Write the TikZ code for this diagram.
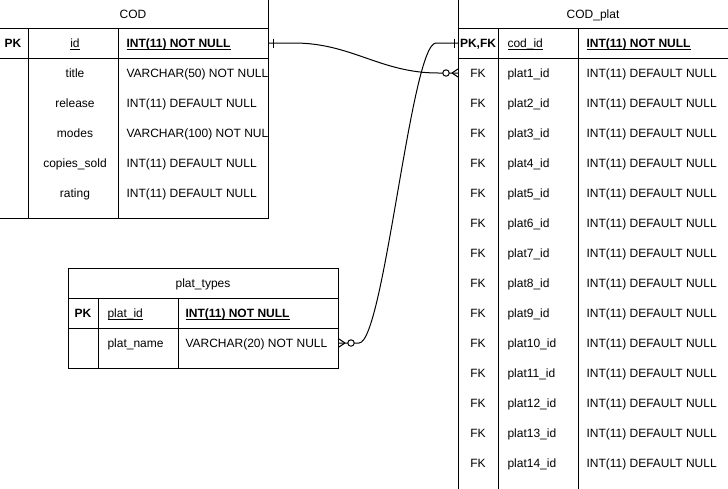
\documentclass[tikz,border=0pt]{standalone}
\usepackage{fontspec}
\setmainfont{Liberation Sans}
\usetikzlibrary{positioning,calc}
\newcommand{\undl}[1]{\setbox0\hbox{#1}\rlap{\rule[-2.6pt]{\wd0}{0.9pt}}\box0}
\tikzstyle{cell}=[inner sep=0pt, text height=9pt, text depth=0pt, font=\fontsize{12}{14}\selectfont]
\tikzstyle{key}=[cell, font=\fontsize{12}{14}\selectfont\bfseries]
\tikzset{
  onemark/.pic={\draw (-4,-4.5) -- (-4,4.5);},
  manymark/.pic={\draw (-6,0) -- (0,-4) (-6,0) -- (0,4);
                 \draw[fill=white] (-12,0) circle (3.2pt);}
}

\begin{document}
\begin{tikzpicture}[x=1pt,y=-1pt,line width=1pt,
    tbl/.style={draw, anchor=north west, inner sep=0pt}]
  \useasboundingbox (0,0) rectangle (728,488);

  % COD
  \node[tbl, minimum width=270pt, minimum height=220pt] (cod) at (-2,-2) {};
  \draw (-2,28) -- (268,28) (-2,58) -- (268,58) (28,28) -- (28,218) (118,28) -- (118,218);
  \node[cell] (codtitle) at (133,14) {COD};
  \node[key] (codpk) at (13,43) {PK};
  \node[cell] (codid) at (75,43) {\undl{id}};
  \node[key, anchor=west] (codidt) at (126,43) {\undl{INT(11) NOT NULL}};
  \foreach \n/\t [count=\i] in {title/VARCHAR(50) NOT NULL, release/INT(11) DEFAULT NULL,
      modes/VARCHAR(100) NOT NUL, copies\_sold/INT(11) DEFAULT NULL, rating/INT(11) DEFAULT NULL} {
    \node[cell] (codn\i) at (75,43+30*\i) {\n};
    \node[cell, anchor=west] (codt\i) at (126,43+30*\i) {\t};
  }

  % plat_types
  \node[tbl, minimum width=270pt, minimum height=100pt] (pt) at (68,268) {};
  \draw (68,298) -- (338,298) (68,328) -- (338,328) (98,298) -- (98,368) (178,298) -- (178,368);
  \node[cell] (pttitle) at (203,283) {plat\_types};
  \node[key] (ptpk) at (83,313) {PK};
  \node[cell, anchor=west] (ptid) at (107,313) {\undl{plat\_id}};
  \node[key, anchor=west] (ptidt) at (185,313) {\undl{INT(11) NOT NULL}};
  \node[cell, anchor=west] (ptn) at (107,343) {plat\_name};
  \node[cell, anchor=west] (ptnt) at (185,343) {VARCHAR(20) NOT NULL};

  % COD_plat
  \node[tbl, minimum width=271pt, minimum height=491pt] (cp) at (458,-2) {};
  \draw (458,28) -- (729,28) (458,58) -- (729,58) (498,28) -- (498,489) (578,28) -- (578,489);
  \node[cell] (cptitle) at (593,14) {COD\_plat};
  \node[key] (cppk) at (478,43) {PK,FK};
  \node[cell, anchor=west] (cpid) at (507,43) {\undl{cod\_id}};
  \node[key, anchor=west] (cpidt) at (586,43) {\undl{INT(11) NOT NULL}};
  \foreach \i in {1,...,14} {
    \node[cell] (cpk\i) at (478,43+30*\i) {FK};
    \node[cell, anchor=west] (cpn\i) at (507,43+30*\i) {plat\i\_id};
    \node[cell, anchor=west] (cpt\i) at (586,43+30*\i) {INT(11) DEFAULT NULL};
  }

  % relations
  \draw (cod.east |- codidt) -- ++(25,0) to[out=0,in=180] ($(cp.west |- cpk1)+(-20,0)$) -- (cp.west |- cpk1);
  \draw (pt.east |- ptnt) -- ++(20,0) .. controls +(25,0) and +(-25,0) .. ($(cp.west |- cpidt)+(-22,0)$) -- (cp.west |- cpidt);
  \pic[xscale=-1] at (cod.east |- codidt) {onemark};
  \pic at (cp.west |- cpidt) {onemark};
  \pic at (cp.west |- cpk1) {manymark};
  \pic[xscale=-1] at (pt.east |- ptnt) {manymark};
\end{tikzpicture}
\end{document}
